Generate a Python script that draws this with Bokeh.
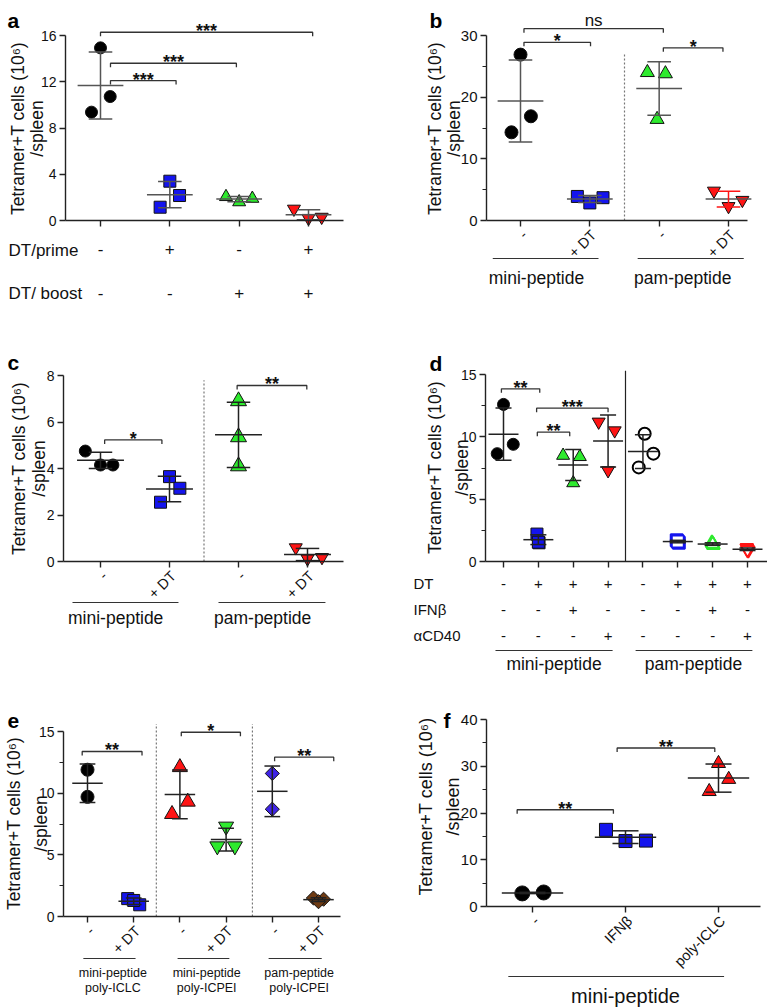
import numpy as np
from bokeh.plotting import figure
from bokeh.layouts import column, row
from bokeh.models import Range1d, FixedTicker, CustomJSTickFormatter
from bokeh.embed import file_html
from bokeh.resources import INLINE
from bokeh.core.properties import value

FONT = "Liberation Sans"
YLAB1 = "Tetramer+T cells (10\u2076)"
YLAB2 = "/spleen"

# ---------------- data ----------------
# panel a
a_vals = [[14.93, 10.72, 9.37], [3.40, 2.16, 1.15], [2.05, 1.60, 1.90], [1.00, 0.20, 0.30]]
a_dt_prime = ["-", "+", "-", "+"]
a_dt_boost = ["-", "-", "+", "+"]
a_yticks = [0, 4, 8, 12, 16]
# panel b
b_vals = [[26.9, 16.9, 14.3], [3.9, 2.85, 3.7], [24.0, 23.8, 16.4], [4.8, 2.3, 3.3]]
b_ticklabels = ["-", "+ DT", "-", "+ DT"]
b_groups = ["mini-peptide", "pam-peptide"]
b_yticks = [0, 10, 20, 30]
b_yminor = [5, 15, 25]
# panel c
c_vals = [[4.75, 4.15, 4.15], [3.65, 3.15, 2.55], [6.9, 5.35, 4.1], [0.6, 0.12, 0.18]]
c_ticklabels = ["-", "+ DT", "-", "+ DT"]
c_groups = ["mini-peptide", "pam-peptide"]
c_yticks = [0, 2, 4, 6, 8]
# panel d
d_vals = [[12.6, 9.4, 8.65], [2.2, 1.5, 1.55], [8.5, 8.4, 6.3], [11.2, 10.5, 7.3],
          [10.25, 8.65, 7.55], [1.7, 1.5, 1.6], [1.5, 1.3, 1.4], [1.1, 0.9, 0.95]]
d_dt = ["-", "+", "+", "+", "-", "+", "+", "+"]
d_ifn = ["-", "-", "+", "-", "-", "-", "+", "-"]
d_cd40 = ["-", "-", "-", "+", "-", "-", "-", "+"]
d_rows = ["DT", "IFN\u03b2", "\u03b1CD40"]
d_groups = ["mini-peptide", "pam-peptide"]
d_yticks = [0, 5, 10, 15]
d_yminor = [2.5, 7.5, 12.5]
# panel e
e_vals = [[11.9, 9.7], [1.45, 0.95, 1.3], [12.1, 9.3, 8.3], [7.3, 5.7, 5.7], [11.6, 8.7], [1.5, 1.4, 1.2]]
e_ticklabels = ["-", "+ DT", "-", "+ DT", "-", "+ DT"]
e_groups = [("mini-peptide", "poly-ICLC"), ("mini-peptide", "poly-ICPEI"), ("pam-peptide", "poly-ICPEI")]
e_yticks = [0, 5, 10, 15]
e_yminor = [2.5, 7.5, 12.5]
# panel f
f_vals = [[2.8, 3.0], [16.4, 14.0, 14.1], [30.6, 27.2, 24.6]]
f_ticklabels = ["-", "IFN\u03b2", "poly-ICLC"]
f_group = "mini-peptide"
f_yticks = [0, 10, 20, 30, 40]
f_yminor = [5, 15, 25, 35]

# significance brackets (from category, to category, height, label)
a_sig = [(1.0, 4.06, 16.28, "***"), (1.144, 2.96, 13.6, "***"), (1.144, 2.09, 12.1, "***")]
b_sig = [(1.05, 3.06, 31.1, "ns"), (1.05, 2.01, 28.9, "*"), (3.06, 3.92, 28.0, "*")]
c_sig = [(1.06, 1.89, 5.23, "*"), (2.98, 3.99, 7.57, "**")]
d_sig = [(0.94, 2.04, 13.85, "**"), (1.95, 4.0, 12.3, "***"), (1.97, 2.9, 10.37, "**")]
e_sig = [(0.885, 2.18, 13.38, "**"), (3.03, 4.31, 14.94, "*"), (5.05, 6.33, 12.92, "**")]
f_sig = [(0.835, 1.87, 20.7, "**"), (1.91, 2.96, 33.9, "**")]

# horizontal jitter of the points (category units)
a_offs = [[0, 0.14, -0.13], [0, 0.14, -0.14], [-0.19, 0, 0.19], [-0.21, 0, 0.19]]
b_offs = [[0, 0.15, -0.13], [-0.18, 0, 0.19], [-0.17, 0.09, -0.03], [-0.21, 0, 0.2]]
c_offs = [[-0.22, 0, 0.18], [0, 0.15, -0.13], [0, 0, 0], [-0.17, 0, 0.21]]
d_offs = [[0, 0.28, -0.18], [-0.04, 0.02, 0.0], [-0.29, 0.19, 0], [-0.27, 0.19, 0],
          [0.05, 0.3, -0.12], [-0.03, 0.03, 0], [-0.02, 0.02, 0], [-0.02, 0.02, 0]]
e_offs = [[0, 0], [-0.13, 0.13, 0], [0, 0.17, -0.17], [0, -0.19, 0.19], [0, 0], [-0.11, 0.11, 0]]
f_offs = [[-0.11, 0.12], [-0.21, 0, 0.22], [0, 0.11, -0.1]]

BLACK, BLUE, GREEN, RED = "#000000", "#1414EE", "#2EEA2E", "#FF1414"
PURPLE, BROWN = "#3F24E6", "#6E3A12"


class Panel:
    def __init__(self, box, cat_px, ncat, zero_px, top_px, top_val, axis_px, xend_px,
                 yticks, yminor, tick_fs="14px"):
        x0, y0, x1, y1 = box
        self.c1 = cat_px[0]
        self.sp = (cat_px[1] - cat_px[0]) / (ncat - 1)
        self.zero = zero_px
        self.k = (zero_px - top_px) / top_val
        self.axis_px = axis_px
        p = figure(width=x1 - x0, height=y1 - y0,
                   x_range=Range1d(self.X(x0), self.X(x1)),
                   y_range=Range1d(self.Y(y1), self.Y(y0)),
                   output_backend="svg", toolbar_location=None, title=None,
                   min_border=0, outline_line_color=None)
        p.xgrid.visible = False
        p.ygrid.visible = False
        ya = p.yaxis[0]
        ya.fixed_location = self.X(axis_px)
        ya.bounds = (0, top_val)
        ya.ticker = FixedTicker(ticks=yticks, minor_ticks=yminor)
        xa = p.xaxis[0]
        xa.fixed_location = 0
        xa.bounds = (self.X(axis_px), self.X(xend_px))
        xa.ticker = FixedTicker(ticks=list(range(1, ncat + 1)), minor_ticks=[])
        xa.formatter = CustomJSTickFormatter(code="return ''")
        for ax in (xa, ya):
            ax.axis_line_color = "#222222"
            ax.axis_line_width = 1.4
            ax.major_tick_line_color = "#222222"
            ax.major_tick_line_width = 1.4
            ax.minor_tick_line_color = "#222222"
            ax.minor_tick_line_width = 1.2
            ax.major_tick_in = 0
            ax.major_tick_out = 6
            ax.minor_tick_in = 0
            ax.minor_tick_out = 4
            ax.major_label_text_font = FONT
            ax.major_label_text_font_size = tick_fs
            ax.major_label_text_color = "#111111"
            ax.major_label_standoff = 3
        self.p = p

    def X(self, px):
        return 1 + (px - self.c1) / self.sp

    def Y(self, py):
        return (self.zero - py) / self.k

    def DX(self, d):
        return d / self.sp

    def DY(self, d):
        return d / self.k

    def text(self, xs, ys, texts, size, align="center", baseline="middle", angle=0.0,
             style="normal", color="#111111"):
        self.p.text(x=list(xs), y=list(ys), text=list(texts), text_font=value(FONT),
                    text_font_size=value(size), text_align=align, text_baseline=baseline,
                    angle=angle, text_font_style=style, text_color=color)

    def ylabel(self, mid_px, off1, off2, size="17.5px"):
        self.text([self.X(self.axis_px - off1)], [self.Y(mid_px)], [YLAB1], size, angle=np.pi / 2)
        self.text([self.X(self.axis_px - off2)], [self.Y(mid_px)], [YLAB2], size, angle=np.pi / 2)

    def letter(self, lab, px, py):
        self.text([self.X(px)], [self.Y(py)], [lab], "21px", align="left",
                  baseline="alphabetic", style="bold", color="black")

    def brackets(self, sig, fs="18px", drop=4):
        xs, ys = [], []
        for x1, x2, y, lab in sig:
            d = self.DY(drop)
            xs.append([x1, x1, x2, x2])
            ys.append([y - d, y, y, y - d])
        self.p.multi_line(xs, ys, line_color="#333333", line_width=1.3)
        for x1, x2, y, lab in sig:
            up = 8 if lab == "ns" else 1.0
            size = "17px" if lab == "ns" else fs
            self.text([(x1 + x2) / 2], [y + self.DY(up)], [lab], size, baseline="alphabetic",
                      style="normal" if lab == "ns" else "bold")

    def groups(self, vals, offs, markers, fills, sizes, mean_hw, cap_hw, err_col,
               lines=None, lws=None, angles=None, err_cols=None):
        n = len(vals)
        lines = lines or ["#111111"] * n
        lws = lws or [1] * n
        angles = angles or [0] * n
        err_cols = err_cols or [err_col] * n
        for i, v in enumerate(vals):
            cat = i + 1
            v = np.asarray(v, dtype=float)
            self.p.scatter(x=cat + np.asarray(offs[i]), y=v, marker=markers[i], size=sizes[i],
                           fill_color=fills[i], line_color=lines[i], line_width=lws[i],
                           angle=angles[i])
        for i, v in enumerate(vals):
            cat = i + 1
            v = np.asarray(v, dtype=float)
            m = v.mean()
            s = v.std(ddof=1)
            self.p.segment(x0=[cat - mean_hw], y0=[m], x1=[cat + mean_hw], y1=[m],
                           line_color=err_col, line_width=1.5)
            self.p.segment(x0=[cat - cap_hw, cat - cap_hw, cat], y0=[m + s, m - s, m - s],
                           x1=[cat + cap_hw, cat + cap_hw, cat], y1=[m + s, m - s, m + s],
                           line_color=err_cols[i], line_width=1.5)

    def rot_ticks(self, labels, size="14.5px"):
        cats = [i + 1 + self.DX(4) for i in range(len(labels))]
        self.text(cats, [self.Y(self.zero + 12)] * len(labels), labels, size, align="right",
                  angle=np.pi / 4)

    def group_lines(self, spans, y_px):
        self.p.multi_line([[a, b] for a, b in spans], [[self.Y(y_px)] * 2 for _ in spans],
                          line_color="#333333", line_width=1.2)

    def vsep(self, xs, top, dash="2 2", color="#777777", width=1.2):
        for x in xs:
            self.p.segment(x0=[x], y0=[0], x1=[x], y1=[top], line_color=color,
                           line_width=width, line_dash=dash)


# ---------------- panel a ----------------
PA = Panel((0, 0, 380, 322), (100, 308), 4, 220, 35, 16, 65, 343, a_yticks, [])
PA.groups(a_vals, a_offs, ["circle", "square", "triangle", "inverted_triangle"],
          [BLACK, BLUE, GREEN, RED], [12, 12, 13, 13], 0.33, 0.17, "#555555")
PA.brackets(a_sig)
PA.ylabel(128, 48, 29)
PA.letter("a", 7, 20)
PA.text([PA.X(8)], [PA.Y(250)], ["DT/prime"], "17px", align="left")
PA.text([PA.X(8)], [PA.Y(293)], ["DT/ boost"], "17px", align="left")
PA.text([1, 2, 3, 4], [PA.Y(248)] * 4, a_dt_prime, "17px")
PA.text([1, 2, 3, 4], [PA.Y(292)] * 4, a_dt_boost, "17px")

# ---------------- panel b ----------------
PB = Panel((380, 0, 767, 322), (520, 728), 4, 220, 35, 30, 486, 747, b_yticks, b_yminor, "15px")
PB.vsep([2.5], 27)
PB.groups(b_vals, b_offs, ["circle", "square", "triangle", "inverted_triangle"],
          [BLACK, BLUE, GREEN, RED], [13, 12, 14, 13], 0.33, 0.17, "#555555",
          err_cols=["#555555", "#555555", "#555555", RED])
PB.brackets(b_sig)
PB.ylabel(128, 52, 33)
PB.letter("b", 429, 20)
PB.rot_ticks(b_ticklabels)
PB.group_lines([(0.6, 2.125), (2.69, 4.22)], 258)
PB.text([1.23, 3.34], [PB.Y(277)] * 2, b_groups, "17.5px")

# ---------------- panel c ----------------
PC = Panel((0, 322, 380, 680), (100, 307), 4, 561, 375, 8, 63, 343, c_yticks, [])
PC.vsep([2.5], 7.8)
PC.groups(c_vals, c_offs, ["circle", "square", "triangle", "inverted_triangle"],
          [BLACK, BLUE, GREEN, RED], [12, 12, 16, 13], 0.34, 0.17, "#222222")
PC.brackets(c_sig)
PC.ylabel(468, 45, 25)
PC.letter("c", 7, 362)
PC.rot_ticks(c_ticklabels)
PC.group_lines([(0.594, 2.13), (2.71, 4.26)], 602)
PC.text([1.22, 3.35], [PC.Y(617)] * 2, c_groups, "17.5px")

# ---------------- panel d ----------------
PD = Panel((380, 322, 767, 680), (503, 747), 8, 561, 374, 15, 485, 767, d_yticks, d_yminor)
PD.vsep([4.5], 15.3, dash="solid", color="#222222", width=1.2)
PD.groups(d_vals, d_offs,
          ["circle", "square", "triangle", "inverted_triangle"] * 2,
          [BLACK, BLUE, GREEN, RED, "white", "white", "white", "white"],
          [12, 12, 13, 13, 12, 12, 13, 13], 0.43, 0.23, "#222222",
          lines=["#111111"] * 4 + [BLACK, BLUE, GREEN, RED], lws=[1] * 4 + [2] * 4)
PD.brackets(d_sig)
PD.ylabel(467, 51, 24)
PD.letter("d", 429, 363)
cats8 = list(range(1, 9))
for lab, signs, py in zip(d_rows, [d_dt, d_ifn, d_cd40], [583, 609, 635]):
    PD.text([PD.X(413)], [PD.Y(py)], [lab], "15px", align="left")
    PD.text(cats8, [PD.Y(py)] * 8, signs, "15px")
PD.group_lines([(0.77, 4.13), (4.79, 8.14)], 650)
PD.text([2.45, 6.45], [PD.Y(663)] * 2, d_groups, "17.5px")

# ---------------- panel e ----------------
PE = Panel((0, 680, 380, 1008), (87, 318), 6, 916, 731, 15, 63, 340, e_yticks, e_yminor)
PE.vsep([2.49, 4.57], 15.6)
PE.groups(e_vals, e_offs, ["circle", "square", "triangle", "inverted_triangle", "square", "square"],
          [BLACK, BLUE, RED, GREEN, PURPLE, BROWN], [13, 12, 15, 15, 10, 10], 0.33, 0.17, "#222222",
          angles=[0, 0, 0, 0, np.pi / 4, np.pi / 4])
PE.brackets(e_sig)
PE.ylabel(823, 50, 23)
PE.letter("e", 7, 720)
PE.rot_ticks(e_ticklabels)
PE.group_lines([(0.91, 2.04), (2.95, 4.07), (4.92, 6.07)], 958)
PE.text([1.55, 3.58, 5.58], [PE.Y(972)] * 3, [g[0] for g in e_groups], "12.5px")
PE.text([1.55, 3.58, 5.58], [PE.Y(987)] * 3, [g[1] for g in e_groups], "12.5px")

# ---------------- panel f ----------------
PF = Panel((380, 680, 767, 1008), (532, 718), 3, 906, 719, 40, 486, 760, f_yticks, f_yminor, "15px")
PF.groups(f_vals, f_offs, ["circle", "square", "triangle"], [BLACK, BLUE, RED],
          [15, 13, 14], 0.33, 0.14, "#222222")
PF.brackets(f_sig)
PF.ylabel(806, 61, 34, "18px")
PF.letter("f", 443, 720)
PF.rot_ticks(f_ticklabels)
PF.group_lines([(0.74, 3.06)], 976)
PF.text([2.0], [PF.Y(995)], [f_group], "20px")

layout = column(row(PA.p, PB.p), row(PC.p, PD.p), row(PE.p, PF.p))
open("out.html", "w").write(file_html(layout, INLINE))
